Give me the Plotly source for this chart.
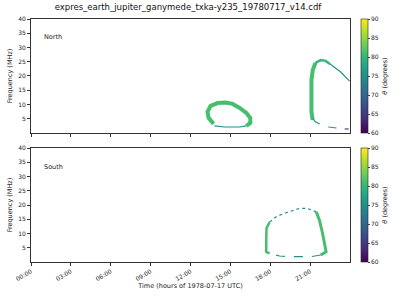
import plotly.graph_objects as go
from plotly.subplots import make_subplots
from plotly.colors import sample_colorscale

title = "expres_earth_jupiter_ganymede_txka-y235_19780717_v14.cdf"
tick_hours = [0, 3, 6, 9, 12, 15, 18, 21]
tick_labels = ["00:00", "03:00", "06:00", "09:00", "12:00", "15:00", "18:00", "21:00"]
freq_ticks = [5, 10, 15, 20, 25, 30, 35, 40]
cbar_ticks = [60, 65, 70, 75, 80, 85, 90]

# North panel, first emission (around 14h)
n1_top_h = [13.74, 13.36, 13.28, 13.51, 14.04, 14.64, 15.17, 15.70, 16.20, 16.50, 16.50, 16.20]
n1_top_f = [3.2, 5.3, 7.4, 9.5, 10.5, 10.7, 10.2, 8.8, 7.0, 5.3, 3.5, 2.5]
n1_top_theta = 81
n1_bot_h = [16.20, 15.70, 14.56, 13.80]
n1_bot_f = [2.5, 2.1, 2.1, 2.5]
n1_bot_theta = 75

# North panel, second emission (around 21h)
n2_left_h = [21.19, 21.10, 21.10, 21.10, 21.20, 21.40]
n2_left_f = [4.6, 7.4, 13.3, 18.6, 22.1, 24.6]
n2_left_theta = 81
n2_top_h = [21.40, 21.80, 22.16, 22.50]
n2_top_f = [24.6, 25.6, 25.3, 24.2]
n2_top_theta = 80
n2_right_h = [22.50, 22.70, 23.30, 23.97]
n2_right_f = [24.2, 23.5, 21.4, 18.2]
n2_right_theta = 75
n2_bot_h = [21.19, 21.40, 21.86, 22.40, 22.98]
n2_bot_f = [5.0, 3.9, 2.8, 2.1, 1.75]
n2_bot_theta = 75
n2_dark_h = [23.60, 23.90]
n2_dark_f = [1.4, 1.4]
n2_dark_theta = 66

# South panel emission (around 20h)
s_left_h = [17.95, 17.70, 17.70, 17.72, 17.95]
s_left_f = [3.0, 3.5, 7.7, 11.9, 14.0]
s_left_theta = 81
s_top_h = [17.95, 18.45, 19.20, 20.20, 20.80, 21.46]
s_top_f = [14.0, 15.9, 17.3, 18.8, 18.8, 17.6]
s_top_theta = 75
s_right_h = [21.46, 21.70, 21.93, 22.16, 22.20, 21.80]
s_right_f = [17.6, 14.7, 10.2, 5.4, 3.6, 2.45]
s_right_theta = 81
s_bot_h = [21.80, 21.10, 19.30, 18.70, 17.95]
s_bot_f = [2.45, 1.9, 1.9, 2.1, 3.0]
s_bot_theta = 75

CMIN, CMAX = 60, 90


def col(theta):
    return sample_colorscale("Viridis", [(theta - CMIN) / (CMAX - CMIN)])[0]


fig = make_subplots(rows=2, cols=1, shared_xaxes=True, vertical_spacing=0.062)

segments = [
    (1, n1_top_h, n1_top_f, n1_top_theta, 4, "solid"),
    (1, n1_bot_h, n1_bot_f, n1_bot_theta, 1.2, "solid"),
    (1, n2_left_h, n2_left_f, n2_left_theta, 4, "solid"),
    (1, n2_top_h, n2_top_f, n2_top_theta, 2.5, "solid"),
    (1, n2_right_h, n2_right_f, n2_right_theta, 1.2, "solid"),
    (1, n2_bot_h, n2_bot_f, n2_bot_theta, 1.2, "dash"),
    (1, n2_dark_h, n2_dark_f, n2_dark_theta, 1.2, "solid"),
    (2, s_left_h, s_left_f, s_left_theta, 2.5, "solid"),
    (2, s_top_h, s_top_f, s_top_theta, 1.2, "dot"),
    (2, s_right_h, s_right_f, s_right_theta, 3, "solid"),
    (2, s_bot_h, s_bot_f, s_bot_theta, 1.2, "dash"),
]
for row, h, f, th, w, dash in segments:
    fig.add_trace(go.Scatter(x=h, y=f, mode="lines", showlegend=False, hoverinfo="skip",
                             line=dict(color=col(th), width=w, dash=dash)), row=row, col=1)

# colorbar carriers
for row, ca in [(1, "coloraxis"), (2, "coloraxis2")]:
    fig.add_trace(go.Scatter(x=[0], y=[-10], mode="markers", showlegend=False, hoverinfo="skip",
                             marker=dict(color=[CMIN], coloraxis=ca, size=1)), row=row, col=1)

font = dict(family="DejaVu Sans", size=6.5, color="#222")
cb_common = dict(thickness=7, len=0.469, lenmode="fraction", x=1.034, xanchor="left",
                 xpad=0, ypad=0,
                 tickvals=cbar_ticks, tickfont=dict(family="DejaVu Sans", size=6, color="#222"),
                 ticks="outside", ticklen=2, outlinewidth=0.6, outlinecolor="#222",
                 title=dict(text="<i>θ</i> (degrees)", side="right",
                            font=dict(family="DejaVu Sans", size=6.5, color="#222")))
fig.update_layout(
    width=400, height=300,
    margin=dict(l=31, r=50, t=19, b=38, autoexpand=False),
    paper_bgcolor="white", plot_bgcolor="white",
    font=font,
    title=dict(text=title, x=0.47, xanchor="center", y=0.985, yanchor="top",
               font=dict(family="DejaVu Sans", size=8.5, color="#111")),
    coloraxis=dict(colorscale="Viridis", cmin=CMIN, cmax=CMAX,
                   colorbar=dict(y=1, yanchor="top", **cb_common)),
    coloraxis2=dict(colorscale="Viridis", cmin=CMIN, cmax=CMAX,
                    colorbar=dict(y=0, yanchor="bottom", **cb_common)),
)
fig.update_layout(yaxis=dict(domain=[0.531, 1]), yaxis2=dict(domain=[0, 0.469]))

axis_common = dict(showline=True, linecolor="#333", linewidth=0.8, mirror=True,
                   showgrid=False, zeroline=False, ticks="outside", ticklen=3,
                   tickcolor="#333", tickfont=dict(family="DejaVu Sans", size=6, color="#222"))
fig.update_xaxes(range=[0, 24], tickvals=tick_hours, ticktext=tick_labels, **axis_common)
fig.update_xaxes(showticklabels=False, row=1, col=1)
fig.update_xaxes(tickangle=-30, row=2, col=1,
                 title=dict(text="Time (hours of 1978-07-17 UTC)", standoff=2,
                            font=dict(family="DejaVu Sans", size=6.5, color="#222")))
fig.update_yaxes(range=[0, 40], tickvals=freq_ticks, **axis_common,
                 title=dict(text="Frequency (MHz)", standoff=4,
                            font=dict(family="DejaVu Sans", size=6.5, color="#222")))

fig.add_annotation(text="North", x=0.035, y=0.95, xref="paper", yref="paper", xanchor="left",
                   yanchor="top", showarrow=False, font=dict(family="DejaVu Sans", size=6.5, color="#222"))
fig.add_annotation(text="South", x=0.035, y=0.415, xref="paper", yref="paper", xanchor="left",
                   yanchor="top", showarrow=False, font=dict(family="DejaVu Sans", size=6.5, color="#222"))

fig.write_html("out.html")
